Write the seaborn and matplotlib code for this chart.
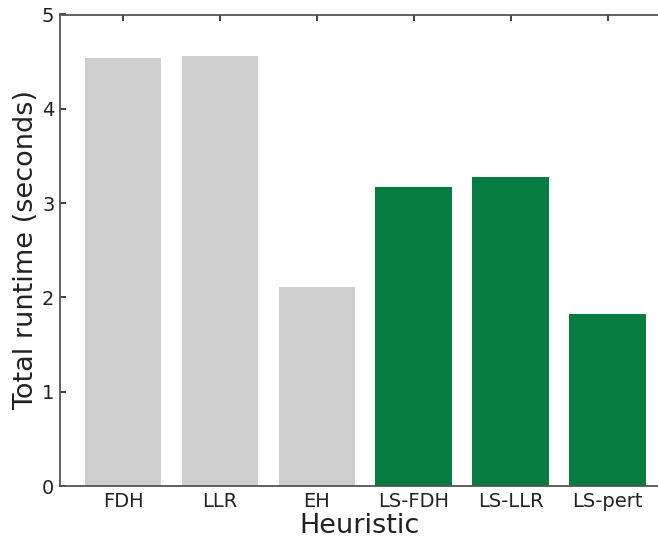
import matplotlib
matplotlib.use("Agg")
import matplotlib.pyplot as plt
import seaborn as sns
import pandas as pd

heuristics = ["FDH", "LLR", "EH", "LS-FDH", "LS-LLR", "LS-pert"]
runtimes = [4.54, 4.56, 2.11, 3.17, 3.28, 1.82]
bar_colors = ["#cfcfcf", "#cfcfcf", "#cfcfcf", "#087b40", "#087b40", "#087b40"]

sns.set_style("white")
plt.rcParams['font.family'] = ['DejaVu Sans']

df = pd.DataFrame({"Heuristic": heuristics, "Runtime": runtimes})

fig = plt.figure(figsize=(6.58, 5.42), dpi=100)
ax = fig.add_axes([60/658, 56/542, 1 - 60/658, (486-14.5)/542])
sns.barplot(data=df, x="Heuristic", y="Runtime", hue="Heuristic",
            palette=bar_colors, width=0.79, legend=False, ax=ax,
            saturation=1, edgecolor="none")

ax.set_xlim(-0.65, 5.52)
ax.set_ylim(0, 5)
ax.set_yticks([0, 1, 2, 3, 4, 5])
ax.set_xlabel("Heuristic", fontsize=19.5, color="#222222", labelpad=2)
ax.set_ylabel("Total runtime (seconds)", fontsize=19.5, color="#222222", labelpad=2)
ax.tick_params(axis="both", direction="in", labelsize=14, colors="#222222",
               length=4, width=1.2)
ax.tick_params(axis="x", top=True, bottom=True, pad=4)
ax.tick_params(axis="y", left=True, right=False, pad=4)
for s in ["left", "bottom", "top"]:
    ax.spines[s].set_visible(True)
    ax.spines[s].set_color("#555555")
    ax.spines[s].set_linewidth(1.3)
ax.spines["right"].set_visible(False)

fig.savefig("out.png", dpi=100)
